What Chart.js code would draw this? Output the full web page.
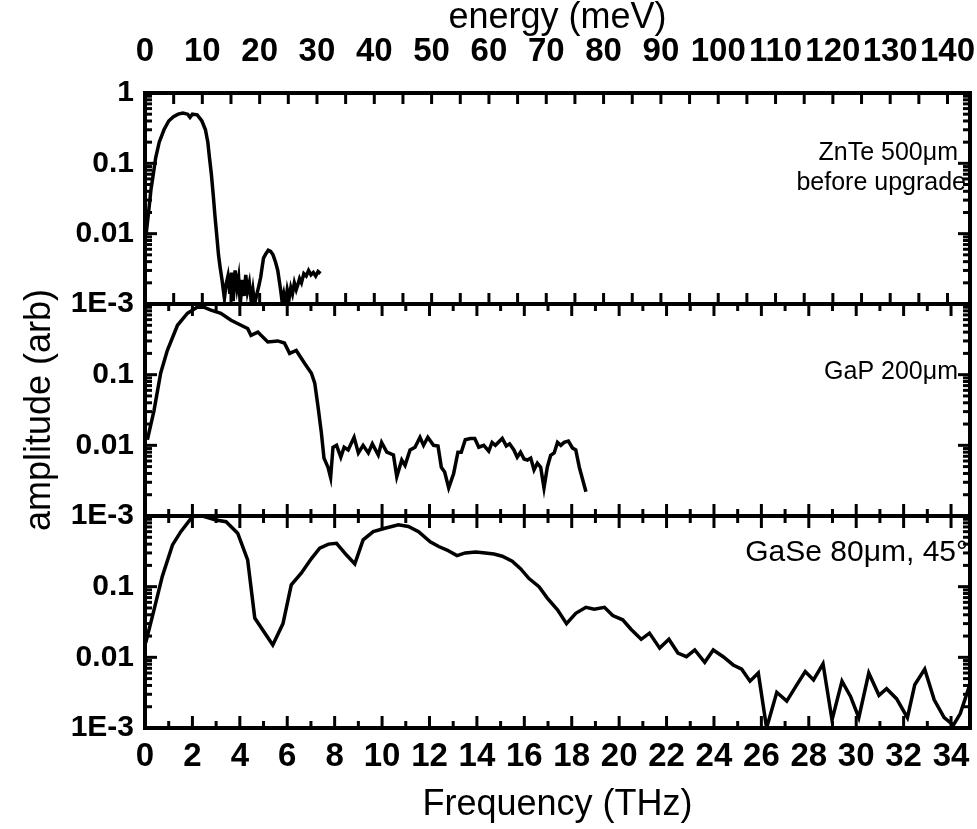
<!DOCTYPE html>
<html>
<head>
<meta charset="utf-8">
<script src="https://cdn.jsdelivr.net/npm/chart.js@4.4.1/dist/chart.umd.min.js"></script>
<style>
  html, body { margin: 0; padding: 0; background: #fff; }
  #wrap { position: relative; width: 977px; height: 829px; }
  #wrap canvas { position: absolute; left: 0; top: 0; }
</style>
</head>
<body>
<div id="wrap">
  <canvas id="c1" width="977" height="829"></canvas>
  <canvas id="c2" width="977" height="829"></canvas>
  <canvas id="c3" width="977" height="829"></canvas>
</div>
<script>
// Spectra (frequency in THz, amplitude arb.)
const znteFreq = [0.05, 0.15, 0.25, 0.35, 0.45, 0.6, 0.8, 1.0, 1.2, 1.4, 1.6, 1.8, 1.9, 2.0, 2.2, 2.4, 2.55, 2.65, 2.72, 2.8,
  2.88, 2.95, 3.02, 3.1, 3.17, 3.25, 3.3, 3.35, 3.42, 3.5, 3.58, 3.65, 3.72, 3.8, 3.88, 3.95, 4.02, 4.1, 4.18, 4.25,
  4.32, 4.4, 4.48, 4.55, 4.62, 4.7, 4.8, 4.88, 4.95, 5.0, 5.1, 5.2, 5.3, 5.4, 5.5, 5.6, 5.65, 5.72, 5.78, 5.85,
  5.92, 6.0, 6.08, 6.15, 6.22, 6.3, 6.38, 6.45, 6.52, 6.6, 6.7, 6.8, 6.9, 7.0, 7.1, 7.2, 7.3, 7.4];
const znteAmp = [0.01, 0.02, 0.042, 0.07, 0.12, 0.2, 0.3, 0.4, 0.46, 0.5, 0.52, 0.5, 0.45, 0.5, 0.49, 0.4, 0.3, 0.2, 0.12, 0.07,
  0.035, 0.018, 0.01, 0.005, 0.0033, 0.0022, 0.0016, 0.0012, 0.0019, 0.0025, 0.0014, 0.0028, 0.0011, 0.003, 0.0017, 0.0024, 0.001, 0.0022, 0.0013, 0.0026,
  0.0015, 0.002, 0.0011, 0.0016, 0.001, 0.0013, 0.0018, 0.0024, 0.0035, 0.0045, 0.0052, 0.0058, 0.0056, 0.005, 0.004, 0.003, 0.0023, 0.0016, 0.0011, 0.0014,
  0.001, 0.0016, 0.0012, 0.0017, 0.0014, 0.002, 0.0016, 0.0019, 0.0023, 0.002, 0.0027, 0.0025, 0.003, 0.0026, 0.0028, 0.0025, 0.0029, 0.0027];

const gapFreq = [0.1, 0.38, 0.66, 0.94, 1.37, 1.79, 2.2, 2.48, 2.78, 3.2, 3.63, 4.05, 4.33, 4.47, 4.76, 5.18, 5.6, 5.88, 6.1, 6.38,
  6.73, 7.02, 7.16, 7.3, 7.44, 7.55, 7.72, 7.83, 7.93, 8.08, 8.26, 8.4, 8.57, 8.82, 9.0, 9.2, 9.42, 9.59, 9.84, 9.98,
  10.2, 10.48, 10.62, 10.83, 10.97, 11.18, 11.39, 11.6, 11.75, 11.93, 12.17, 12.36, 12.5, 12.64, 12.81, 13.02, 13.2, 13.34, 13.51, 13.72,
  13.91, 14.08, 14.29, 14.5, 14.64, 14.78, 15.07, 15.24, 15.38, 15.56, 15.7, 15.84, 15.99, 16.13, 16.27, 16.41, 16.55, 16.69, 16.83, 16.97,
  17.11, 17.26, 17.4, 17.54, 17.68, 17.86, 18.03, 18.17, 18.32, 18.6];
const gapAmp = [0.012, 0.031, 0.105, 0.22, 0.5, 0.74, 0.9, 0.9, 0.82, 0.74, 0.59, 0.5, 0.45, 0.36, 0.4, 0.29, 0.3, 0.28, 0.2, 0.22,
  0.145, 0.105, 0.076, 0.035, 0.015, 0.0066, 0.0049, 0.0035, 0.0094, 0.01, 0.0068, 0.0094, 0.0086, 0.013, 0.0078, 0.01, 0.0078, 0.0105, 0.0073, 0.011,
  0.008, 0.0073, 0.0036, 0.0062, 0.0052, 0.0086, 0.0094, 0.013, 0.01, 0.013, 0.01, 0.0098, 0.0049, 0.0042, 0.0025, 0.004, 0.008, 0.008, 0.012, 0.0125,
  0.0125, 0.0094, 0.01, 0.0083, 0.011, 0.01, 0.0125, 0.0098, 0.0105, 0.0086, 0.0068, 0.008, 0.0064, 0.0062, 0.0066, 0.0045, 0.0056, 0.0049, 0.0025, 0.0049,
  0.0072, 0.0078, 0.011, 0.01, 0.011, 0.0115, 0.0092, 0.0086, 0.0049, 0.0022];

const gaseFreq = [0.03, 0.38, 0.73, 1.16, 1.51, 2.0, 2.43, 2.99, 3.42, 3.91, 4.33, 4.63, 5.39, 5.82, 6.17, 6.59, 7.02, 7.37, 7.74, 8.08,
  8.5, 8.85, 9.2, 9.63, 10.12, 10.69, 11.11, 11.54, 12.03, 12.39, 12.74, 13.16, 13.51, 13.95, 14.36, 14.72, 15.07, 15.49, 15.84, 16.2,
  16.62, 16.97, 17.4, 17.78, 18.17, 18.6, 18.95, 19.38, 19.73, 20.15, 20.5, 20.93, 21.28, 21.71, 22.1, 22.48, 22.84, 23.19, 23.61, 23.97,
  24.39, 24.81, 25.17, 25.52, 25.87, 26.22, 26.65, 27.07, 27.5, 27.85, 28.2, 28.6, 28.98, 29.4, 29.76, 30.11, 30.53, 30.96, 31.28, 31.7,
  32.16, 32.47, 32.89, 33.29, 33.71, 34.1, 34.39, 34.84];
const gaseAmp = [0.016, 0.047, 0.14, 0.39, 0.6, 0.98, 1.0, 0.88, 0.83, 0.57, 0.24, 0.036, 0.015, 0.03, 0.106, 0.155, 0.25, 0.35, 0.4, 0.41,
  0.28, 0.21, 0.46, 0.6, 0.67, 0.75, 0.71, 0.6, 0.43, 0.37, 0.33, 0.275, 0.3, 0.31, 0.3, 0.29, 0.27, 0.23, 0.18, 0.13,
  0.1, 0.069, 0.047, 0.03, 0.042, 0.051, 0.048, 0.051, 0.039, 0.034, 0.025, 0.018, 0.022, 0.0135, 0.018, 0.0115, 0.0102, 0.0127, 0.0085, 0.0127,
  0.0102, 0.0078, 0.0068, 0.0046, 0.006, 0.001, 0.0032, 0.0024, 0.0041, 0.0063, 0.0048, 0.0081, 0.0013, 0.0046, 0.0028, 0.0014, 0.006, 0.0029, 0.0036, 0.0026,
  0.0014, 0.0041, 0.0068, 0.0025, 0.0014, 0.0011, 0.0016, 0.0046];

// Axis ticks
const freqTicks = [0, 2, 4, 6, 8, 10, 12, 14, 16, 18, 20, 22, 24, 26, 28, 30, 32, 34];
const energyTicks = [0, 10, 20, 30, 40, 50, 60, 70, 80, 90, 100, 110, 120, 130, 140];
const ampTicks = [0.001, 0.01, 0.1, 1];
const ampLabels = ['1E-3', '0.01', '0.1', '1'];

const FREQ_MAX = 34.8;
const MEV_PER_THZ = 4.1357;

const X_TICK_FONT = { family: '"Liberation Sans", Arial, sans-serif', size: 33, weight: 'bold' };
const Y_TICK_FONT = { family: '"Liberation Sans", Arial, sans-serif', size: 30, weight: 'bold' };
const TITLE_FONT = { family: '"Liberation Sans", Arial, sans-serif', size: 36, weight: 'normal', lineHeight: 1 };

// inward ticks + heavy frame, drawn with the chart's own scales
const frameTicks = {
  id: 'frameTicks',
  afterDraw(chart, args, opts) {
    const { ctx, chartArea: a, scales } = chart;
    const seg = (x1, y1, x2, y2) => { ctx.beginPath(); ctx.moveTo(x1, y1); ctx.lineTo(x2, y2); ctx.stroke(); };
    ctx.save();
    ctx.strokeStyle = '#000';
    ctx.lineWidth = 3;
    if (opts.energy) {
      const s = scales.x2;
      for (let v = 0; v <= s.max; v += 5) {
        const px = s.getPixelForValue(v);
        if (px <= a.left + 2 || px >= a.right - 2) continue;
        seg(px, a.top, px, a.top + 11);
        seg(px, a.bottom, px, a.bottom - 11);
      }
    } else {
      const s = scales.x;
      for (let v = 0; v <= s.max; v += 1) {
        const px = s.getPixelForValue(v);
        if (px <= a.left + 2 || px >= a.right - 2) continue;
        const len = v % 2 === 0 ? 12 : 7;
        seg(px, a.top, px, a.top + len);
        seg(px, a.bottom, px, a.bottom - len);
      }
    }
    const y = scales.y;
    for (let e = -3; e < 0; e++) {
      for (let m = 1; m < 10; m++) {
        if (m === 1 && e === -3) continue;
        const py = y.getPixelForValue(m * Math.pow(10, e));
        const len = m === 1 ? 12 : 7;
        seg(a.left, py, a.left + len, py);
        seg(a.right, py, a.right - len, py);
      }
    }
    ctx.lineWidth = 4;
    ctx.strokeRect(a.left, a.top, a.right - a.left, a.bottom - a.top);
    // sample label(s), right aligned inside the frame
    ctx.fillStyle = '#000';
    ctx.textAlign = 'right';
    ctx.textBaseline = 'middle';
    (opts.labels || []).forEach(l => {
      ctx.font = l.size + 'px "Liberation Sans", Arial, sans-serif';
      ctx.fillText(l.text, a.right - l.dx, a.top + l.dy);
    });
    ctx.restore();
  }
};

function points(xs, ys) {
  return xs.map((x, i) => ({ x: x, y: ys[i] }));
}

function yAxis(showOne, title) {
  return {
    type: 'logarithmic',
    min: 0.001,
    max: 1,
    grid: { display: false, drawTicks: false },
    border: { display: false },
    afterBuildTicks: s => { s.ticks = ampTicks.map(v => ({ value: v })); },
    ticks: {
      autoSkip: false,
      padding: 11,
      color: '#000',
      font: Y_TICK_FONT,
      callback: v => {
        const i = ampTicks.findIndex(t => Math.abs(t - v) < v * 1e-6);
        if (i < 0) return '';
        if (v === 1 && !showOne) return '';
        return ampLabels[i];
      }
    },
    title: title ? { display: true, text: title, color: '#000', font: TITLE_FONT, padding: { top: 22, bottom: 0 } } : { display: false },
    afterFit: s => { s.width = 145; s.paddingTop = 0; s.paddingBottom = 0; }
  };
}

function freqAxis(show) {
  return {
    type: 'linear',
    min: 0,
    max: FREQ_MAX,
    display: show,
    grid: { display: false, drawTicks: false },
    border: { display: false },
    afterBuildTicks: s => { s.ticks = freqTicks.map(v => ({ value: v })); },
    ticks: { autoSkip: false, maxRotation: 0, padding: 9, color: '#000', font: X_TICK_FONT, callback: v => String(v) },
    title: { display: true, text: 'Frequency (THz)', color: '#000', font: TITLE_FONT, padding: { top: 0, bottom: 6 } },
    afterFit: s => { s.height = show ? 101 : 0; s.paddingLeft = 0; s.paddingRight = 0; }
  };
}

function makePanel(id, xs, ys, cfg) {
  const scales = { x: freqAxis(cfg.bottom), y: yAxis(cfg.showOne, cfg.yTitle) };
  if (cfg.energy) {
    scales.x2 = {
      type: 'linear',
      position: 'top',
      min: 0,
      max: FREQ_MAX * MEV_PER_THZ,
      grid: { display: false, drawTicks: false },
      border: { display: false },
      afterBuildTicks: s => { s.ticks = energyTicks.map(v => ({ value: v })); },
      ticks: { autoSkip: false, maxRotation: 0, padding: 21, color: '#000', font: X_TICK_FONT, callback: v => String(v) },
      title: { display: true, text: 'energy (meV)', color: '#000', font: TITLE_FONT, padding: { top: 0, bottom: 0 } },
      afterFit: s => { s.height = 93; s.paddingLeft = 0; s.paddingRight = 0; }
    };
  }
  return new Chart(document.getElementById(id), {
    type: 'line',
    data: {
      datasets: [{
        data: points(xs, ys),
        xAxisID: 'x',
        yAxisID: 'y',
        borderColor: '#000',
        borderWidth: 3.5,
        pointRadius: 0,
        tension: 0,
        fill: false
      }]
    },
    options: {
      responsive: false,
      animation: false,
      layout: { padding: cfg.padding },
      scales: scales,
      plugins: {
        legend: { display: false },
        tooltip: { enabled: false },
        frameTicks: { energy: !!cfg.energy, labels: cfg.labels }
      }
    },
    plugins: [frameTicks]
  });
}

makePanel('c1', znteFreq, znteAmp, {
  energy: true, bottom: false, showOne: true,
  padding: { left: 0, right: 7, top: 0, bottom: 525 },
  labels: [{ text: 'ZnTe 500\u03bcm', dx: 12, dy: 60, size: 25 }, { text: 'before upgrade', dx: 4, dy: 90, size: 25 }]
});
makePanel('c2', gapFreq, gapAmp, {
  energy: false, bottom: false, showOne: false, yTitle: 'amplitude (arb)',
  padding: { left: 0, right: 7, top: 304, bottom: 313 },
  labels: [{ text: 'GaP 200\u03bcm', dx: 12, dy: 68, size: 25 }]
});
makePanel('c3', gaseFreq, gaseAmp, {
  energy: false, bottom: true, showOne: false,
  padding: { left: 0, right: 7, top: 516, bottom: 0 },
  labels: [{ text: 'GaSe 80\u03bcm, 45\u00b0', dx: 2, dy: 37, size: 30 }]
});
</script>
</body>
</html>
